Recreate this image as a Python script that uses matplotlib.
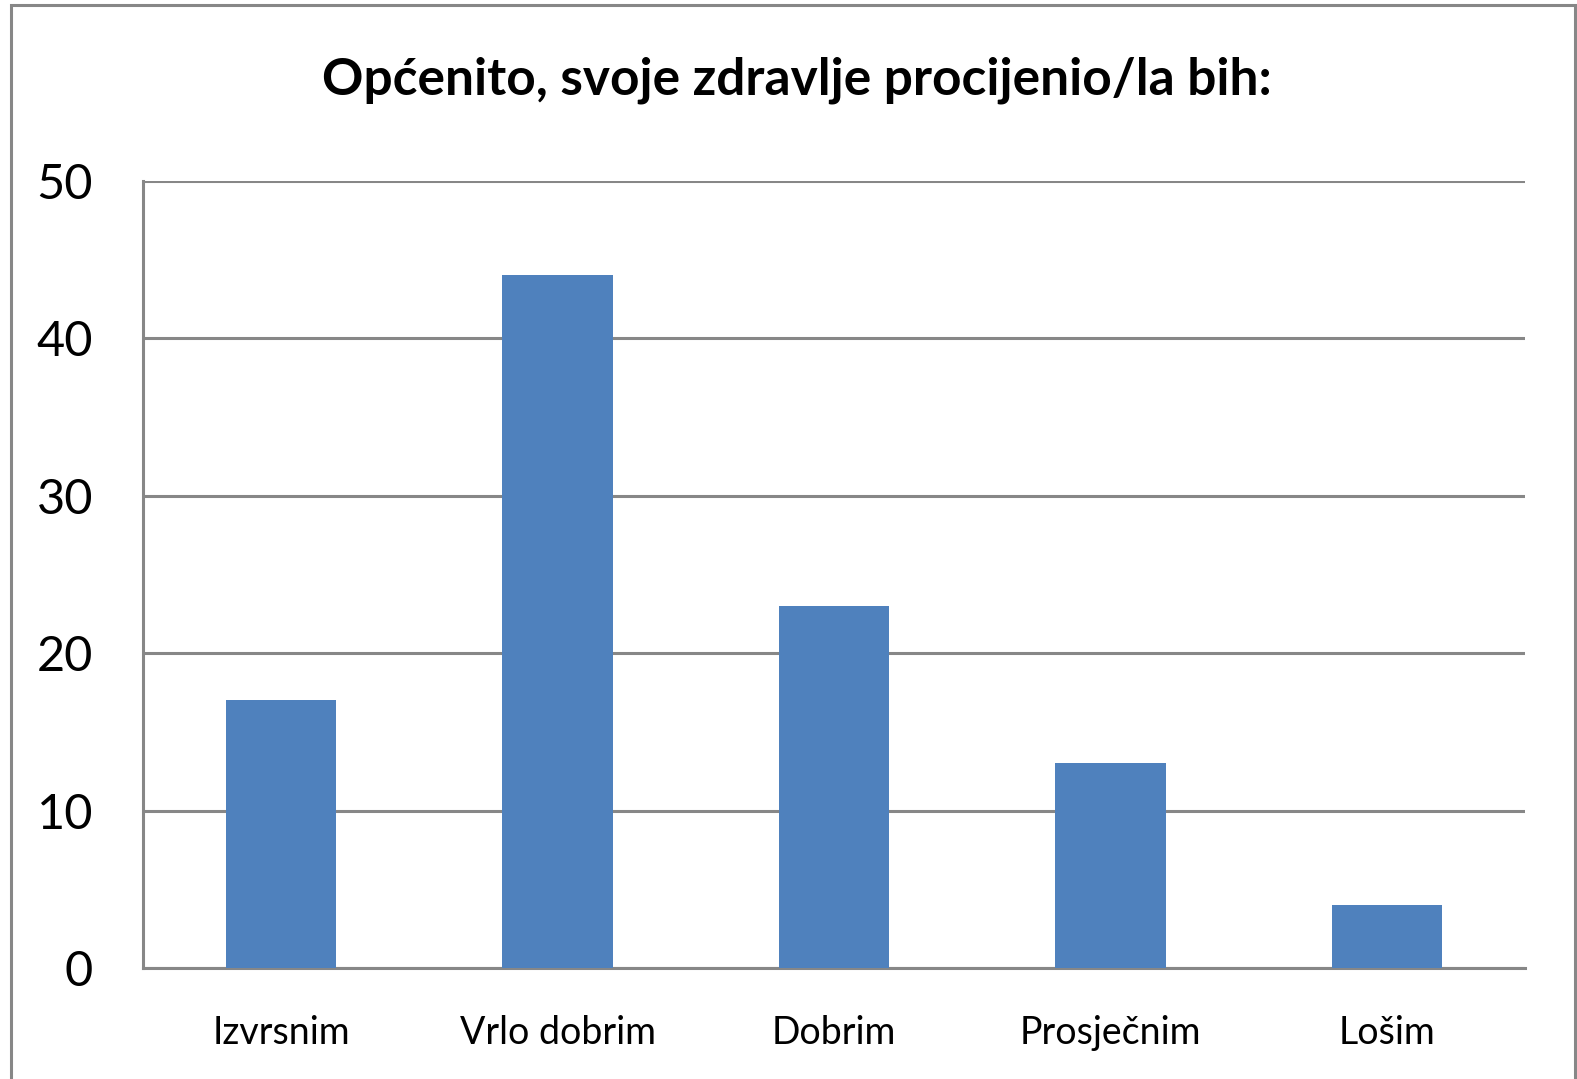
import matplotlib
matplotlib.use("Agg")
import matplotlib.pyplot as plt
from matplotlib.patches import Rectangle

# data
categories = ["Izvrsnim", "Vrlo dobrim", "Dobrim", "Prosječnim", "Lošim"]
values = [17, 44, 23, 13, 4]
yticks = [0, 10, 20, 30, 40, 50]
title = "Općenito, svoje zdravlje procijenio/la bih:"

plt.rcParams['font.family'] = ['Lato', 'DejaVu Sans']

W, H = 1577, 1079
fig = plt.figure(figsize=(W / 100, H / 100), dpi=100)
ax = fig.add_axes([143 / W, 1 - 968 / H, (1525 - 143) / W, (968 - 181) / H])

grid_col = "#878787"
x = range(len(categories))
ax.bar(x, values, width=0.40, color="#4F81BD", zorder=3)

ax.set_xlim(-0.5, len(categories) - 0.5)
ax.set_ylim(0, 50)
ax.set_yticks(yticks)
ax.set_xticks(list(x))
ax.set_xticklabels(categories, fontsize=27)
ax.set_yticklabels([str(t) for t in yticks], fontsize=35)
ax.tick_params(axis='x', length=0, pad=34)
ax.tick_params(axis='y', length=0, pad=36)

ax.grid(axis='y', color=grid_col, linewidth=2.2, zorder=0)
ax.set_axisbelow(True)
for s in ["top", "right"]:
    ax.spines[s].set_visible(False)
ax.spines["left"].set_color(grid_col)
ax.spines["left"].set_linewidth(2.2)
ax.spines["bottom"].set_color(grid_col)
ax.spines["bottom"].set_linewidth(2.2)

fig.text(797 / W, 1 - 80 / H, title, ha='center', va='center',
         fontsize=37, fontweight='bold')

# outer chart frame (bottom edge is cut off in the reference)
fig.patches.append(Rectangle((11 / W, -0.05), (1575 - 11) / W, 1.05 - 5 / H,
                             transform=fig.transFigure, fill=False,
                             edgecolor=grid_col, linewidth=2.2))

fig.savefig("out.png", dpi=100)
